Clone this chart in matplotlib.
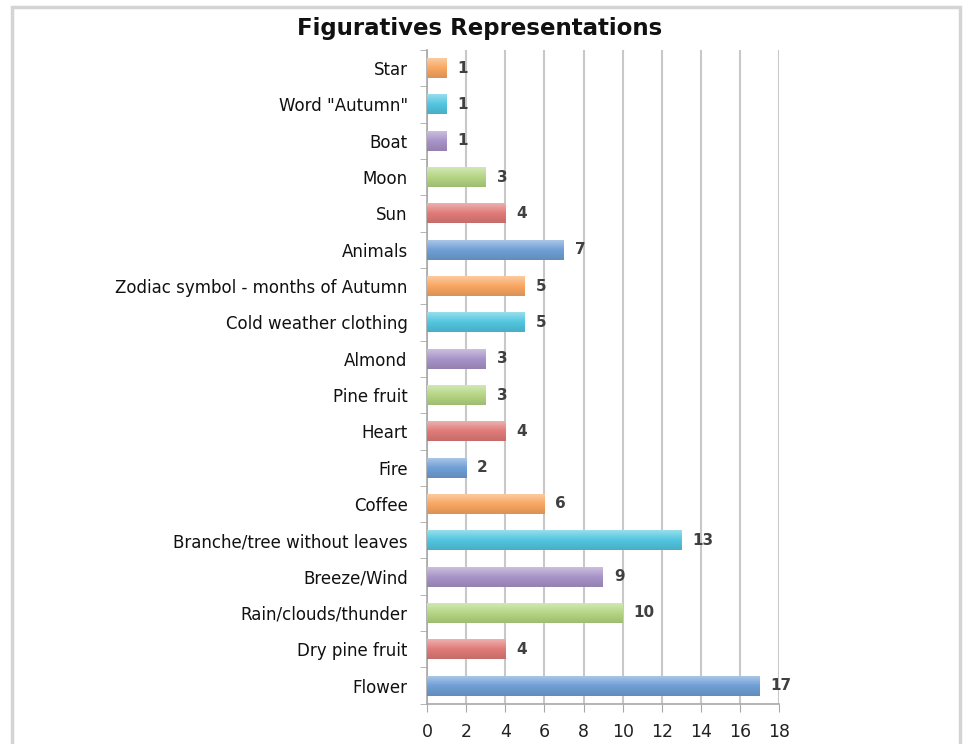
import matplotlib
matplotlib.use("Agg")
import matplotlib.pyplot as plt
import matplotlib.colors as mcolors
from matplotlib.patches import Rectangle
import numpy as np

# data, bottom to top as in the picture
categories = ["Flower", "Dry pine fruit", "Rain/clouds/thunder", "Breeze/Wind",
              "Branche/tree without leaves", "Coffee", "Fire", "Heart", "Pine fruit",
              "Almond", "Cold weather clothing", "Zodiac symbol - months of Autumn",
              "Animals", "Sun", "Moon", "Boat", "Word \"Autumn\"", "Star"]
counts = [17, 4, 10, 9, 13, 6, 2, 4, 3, 3, 5, 5, 7, 4, 3, 1, 1, 1]
palette = ["#6f9fd6", "#e07b78", "#b5d683", "#a893c8", "#52c6e0", "#f9a661"]
x_ticks = list(range(0, 20, 2))

fig = plt.figure(figsize=(9.73, 7.44), dpi=100)
ax = fig.add_axes([0.439, 0.054, 0.3617, 0.879])

ypos = np.arange(len(categories))
colors = [palette[i % len(palette)] for i in range(len(categories))]
bars = ax.barh(ypos, counts, height=0.55, color=colors, edgecolor="none", zorder=3)

# soft vertical gradient on each bar (lighter on top, darker at the bottom)
for b, c in zip(bars, colors):
    base = np.array(mcolors.to_rgb(c))
    light = base + (1 - base) * 0.4
    dark = base * 0.88
    t = np.linspace(0, 1, 32)[:, None]
    grad = np.where(t < 0.5, light + (base - light) * (t / 0.5),
                    base + (dark - base) * ((t - 0.5) / 0.5))
    x0, y0 = b.get_x(), b.get_y()
    w, h = b.get_width(), b.get_height()
    im = ax.imshow(grad[:, None, :], extent=[x0, x0 + w, y0, y0 + h],
                   aspect="auto", zorder=4, interpolation="bilinear")
    im.set_clip_path(b)

for y, v in zip(ypos, counts):
    ax.text(v + 0.55, y, str(v), va="center", ha="left", fontsize=11,
            fontweight="bold", color="#404040", zorder=5)

ax.set_xlim(0, 18)
ax.set_ylim(-0.5, len(categories) - 0.5)
ax.set_xticks(x_ticks)
ax.set_xticklabels([str(t) for t in x_ticks], fontsize=12.5, color="#222222")
ax.set_yticks(ypos)
ax.set_yticklabels(categories, fontsize=12, color="#111111")
ax.set_yticks(np.arange(-0.5, len(categories), 1), minor=True)
ax.tick_params(axis="y", which="major", length=0, pad=14)
ax.tick_params(axis="y", which="minor", length=5, color="#a8a8a8", direction="out")
ax.tick_params(axis="x", length=6, color="#a8a8a8", direction="out", pad=8)

ax.grid(axis="x", color="#c8c8c8", linewidth=1.5, zorder=0)
ax.set_axisbelow(True)
for s in ["top", "right"]:
    ax.spines[s].set_visible(False)
for s in ["left", "bottom"]:
    ax.spines[s].set_color("#a8a8a8")
    ax.spines[s].set_linewidth(1.2)

fig.text(0.493, 0.962, "Figuratives Representations", ha="center", va="center",
         fontsize=16.5, fontweight="bold", color="#111111")

fig.patches.append(Rectangle((0.0123, -0.02), 0.9743, 1.0106, transform=fig.transFigure,
                             fill=False, edgecolor="#d4d4d4", linewidth=2.5))

fig.savefig("out.png", dpi=100)
